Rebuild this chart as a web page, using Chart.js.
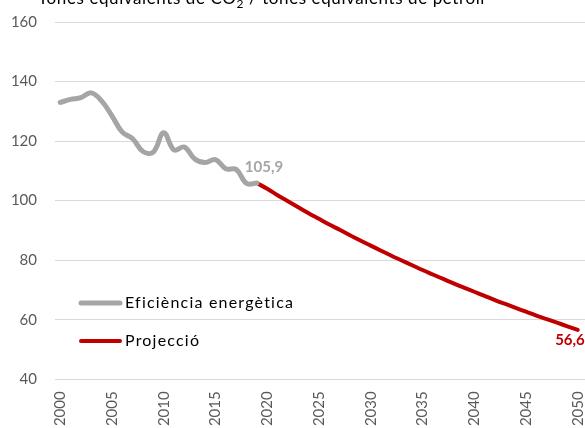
<!DOCTYPE html>
<html>
<head>
<meta charset="utf-8">
<script src="https://cdn.jsdelivr.net/npm/chart.js@4/dist/chart.umd.min.js"></script>
<style>
  body { margin: 0; background: #fff; overflow: hidden; }
  #wrap { position: relative; width: 585px; height: 428px; }
  #title {
    position: absolute; left: 38px; top: -11px;
    font: 17px Lato, sans-serif; line-height: 17px; letter-spacing: 0.6px;
    color: #000; white-space: nowrap;
  }
  canvas { position: absolute; left: 0; top: 0; }
</style>
</head>
<body>
<div id="wrap">
  <canvas id="chart" width="585" height="428"></canvas>
  <div id="title">Tones equivalents de CO<sub style="font-size:12px">2</sub> / tones equivalents de petroli</div>
</div>
<script>
// historic series
const histYears = [2000, 2001, 2002, 2003, 2004, 2005, 2006, 2007, 2008, 2009,
  2010, 2011, 2012, 2013, 2014, 2015, 2016, 2017, 2018, 2019];
const histValues = [133.0, 134.0, 134.6, 136.2, 133.5, 128.5, 123.0, 120.8, 116.5, 116.3,
  122.8, 117.0, 118.0, 114.0, 112.8, 113.8, 110.7, 110.5, 105.8, 105.9];

// projection 2019-2050
const projYears = [2019, 2020, 2021, 2022, 2023, 2024, 2025, 2026, 2027, 2028, 2029,
  2030, 2031, 2032, 2033, 2034, 2035, 2036, 2037, 2038, 2039,
  2040, 2041, 2042, 2043, 2044, 2045, 2046, 2047, 2048, 2049, 2050];
const projValues = [105.9, 104.0, 101.8, 99.8, 97.8, 95.8, 93.9, 92.0, 90.2, 88.4, 86.6,
  84.9, 83.2, 81.5, 79.9, 78.3, 76.7, 75.2, 73.7, 72.2, 70.8,
  69.4, 68.0, 66.6, 65.3, 64.0, 62.7, 61.4, 60.2, 59.0, 57.8, 56.6];

const seriesNames = ['Eficiència energètica', 'Projecció'];
const xTicks = [2000, 2005, 2010, 2015, 2020, 2025, 2030, 2035, 2040, 2045, 2050];
const yTicks = [40, 60, 80, 100, 120, 140, 160];

const fontFamily = 'Lato, sans-serif';
const gray = '#A5A5A5';
const red = '#C00000';

const toPoints = (xs, ys) => xs.map((x, i) => ({ x: x, y: ys[i] }));

// in-chart legend, like the excel one
const insideLegend = {
  id: 'insideLegend',
  afterDraw(chart) {
    const ctx = chart.ctx;
    const rows = [303, 341];
    ctx.save();
    chart.data.datasets.forEach((ds, i) => {
      const y = rows[i];
      ctx.strokeStyle = ds.borderColor;
      ctx.lineWidth = ds.borderWidth;
      ctx.lineCap = 'round';
      ctx.beginPath();
      ctx.moveTo(81, y);
      ctx.lineTo(120, y);
      ctx.stroke();
      ctx.fillStyle = '#000';
      ctx.font = '16px ' + fontFamily;
      ctx.letterSpacing = '1.2px';
      ctx.textAlign = 'left';
      ctx.textBaseline = 'middle';
      ctx.fillText(ds.label, 125, y);
    });
    ctx.restore();
  }
};

// value label on the last point of each line
const endLabels = {
  id: 'endLabels',
  afterDatasetsDraw(chart) {
    const ctx = chart.ctx;
    ctx.save();
    chart.data.datasets.forEach((ds, i) => {
      const meta = chart.getDatasetMeta(i);
      const pt = meta.data[meta.data.length - 1];
      const val = ds.data[ds.data.length - 1].y;
      const o = ds.endLabel;
      ctx.fillStyle = ds.borderColor;
      ctx.font = 'bold 15px ' + fontFamily;
      ctx.textAlign = o.align;
      ctx.textBaseline = 'middle';
      ctx.fillText(val.toFixed(1).replace('.', ','), pt.x + o.dx, pt.y + o.dy);
    });
    ctx.restore();
  }
};

new Chart(document.getElementById('chart'), {
  type: 'line',
  data: {
    datasets: [
      {
        label: seriesNames[0],
        data: toPoints(histYears, histValues),
        borderColor: gray,
        borderWidth: 5,
        borderCapStyle: 'round',
        tension: 0.4,
        pointRadius: 0,
        endLabel: { align: 'left', dx: -12, dy: -16 }
      },
      {
        label: seriesNames[1],
        data: toPoints(projYears, projValues),
        borderColor: red,
        borderWidth: 4,
        borderCapStyle: 'round',
        tension: 0.4,
        pointRadius: 0,
        endLabel: { align: 'right', dx: 7, dy: 10 }
      }
    ]
  },
  options: {
    responsive: false,
    animation: false,
    layout: { padding: { top: 22, left: 0, right: 0, bottom: 0 } },
    plugins: {
      legend: { display: false },
      tooltip: { enabled: false }
    },
    scales: {
      x: {
        type: 'linear',
        min: 1999.5,
        max: 2050.7,
        grid: { display: false, drawTicks: false },
        border: { display: false },
        afterBuildTicks: (scale) => {
          scale.ticks = xTicks.map(v => ({ value: v }));
        },
        afterFit: (scale) => {
          scale.height = 48.7;
          scale.paddingLeft = 0;
          scale.paddingRight = 0;
        },
        ticks: {
          autoSkip: false,
          minRotation: 90,
          maxRotation: 90,
          padding: 12,
          color: '#595959',
          font: { family: fontFamily, size: 15 },
          callback: (v) => String(v)
        }
      },
      y: {
        min: 40,
        max: 160,
        grid: { color: '#D9D9D9', lineWidth: 1, drawTicks: false },
        border: { display: false },
        afterBuildTicks: (scale) => {
          scale.ticks = yTicks.map(v => ({ value: v }));
        },
        afterFit: (scale) => {
          scale.width = 55;
          scale.paddingTop = 0;
          scale.paddingBottom = 0;
        },
        ticks: {
          padding: 18,
          color: '#595959',
          font: { family: fontFamily, size: 15 }
        }
      }
    }
  },
  plugins: [insideLegend, endLabels]
});
</script>
</body>
</html>
